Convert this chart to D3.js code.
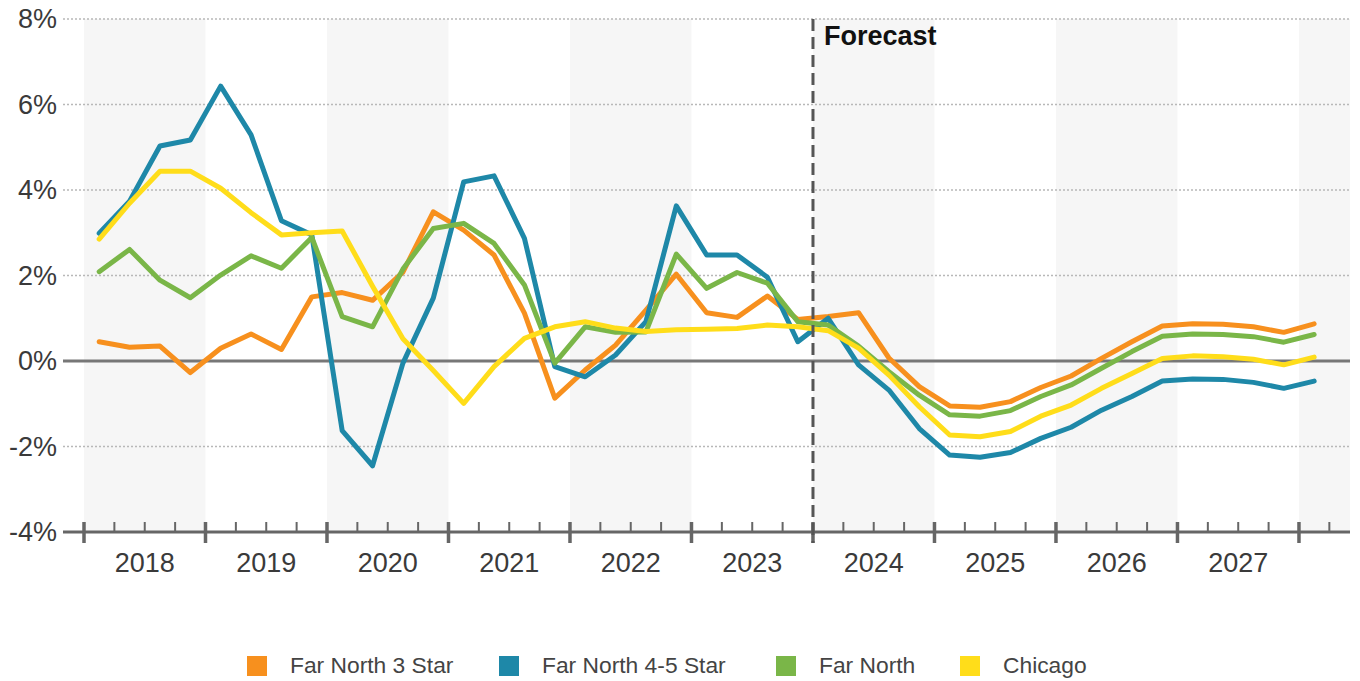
<!DOCTYPE html>
<html>
<head>
<meta charset="utf-8">
<script src="https://cdn.jsdelivr.net/npm/d3@7"></script>
<style>
  html, body { margin: 0; padding: 0; background: #fff; }
  svg { display: block; font-family: "Liberation Sans", Arial, sans-serif; }
</style>
</head>
<body>
<svg id="chart" width="1360" height="681"></svg>
<script>
// Quarterly periods, 2018 Q1 through 2028 Q1
const quarters = [
  "2018Q1","2018Q2","2018Q3","2018Q4",
  "2019Q1","2019Q2","2019Q3","2019Q4",
  "2020Q1","2020Q2","2020Q3","2020Q4",
  "2021Q1","2021Q2","2021Q3","2021Q4",
  "2022Q1","2022Q2","2022Q3","2022Q4",
  "2023Q1","2023Q2","2023Q3","2023Q4",
  "2024Q1","2024Q2","2024Q3","2024Q4",
  "2025Q1","2025Q2","2025Q3","2025Q4",
  "2026Q1","2026Q2","2026Q3","2026Q4",
  "2027Q1","2027Q2","2027Q3","2027Q4",
  "2028Q1"
];

// Year-over-year change, percent
const farNorth3Star = [
  0.45, 0.32, 0.35, -0.27, 0.30, 0.63, 0.27, 1.50,
  1.60, 1.42, 2.08, 3.49, 3.06, 2.48, 1.12, -0.87,
  -0.21, 0.37, 1.19, 2.03, 1.13, 1.02, 1.52, 0.97,
  1.04, 1.13, 0.07, -0.60, -1.05, -1.08, -0.95, -0.62,
  -0.35, 0.06, 0.45, 0.82, 0.87, 0.86, 0.80, 0.67,
  0.87
];
const farNorth45Star = [
  2.99, 3.74, 5.03, 5.17, 6.43, 5.29, 3.28, 2.95,
  -1.63, -2.45, -0.05, 1.47, 4.19, 4.33, 2.87, -0.13,
  -0.37, 0.14, 0.92, 3.63, 2.48, 2.48, 1.96, 0.45,
  1.00, -0.09, -0.68, -1.58, -2.20, -2.25, -2.14, -1.81,
  -1.55, -1.15, -0.83, -0.47, -0.42, -0.43, -0.50, -0.64,
  -0.47
];
const farNorth = [
  2.09, 2.61, 1.89, 1.48, 2.01, 2.46, 2.17, 2.89,
  1.04, 0.80, 2.15, 3.10, 3.22, 2.75, 1.78, -0.05,
  0.80, 0.67, 0.68, 2.50, 1.70, 2.07, 1.82, 0.92,
  0.84, 0.35, -0.25, -0.80, -1.26, -1.29, -1.16, -0.83,
  -0.56, -0.17, 0.22, 0.58, 0.63, 0.62, 0.57, 0.44,
  0.62
];
const chicago = [
  2.85, 3.69, 4.44, 4.44, 4.04, 3.47, 2.95, 3.00,
  3.04, 1.75, 0.52, -0.22, -0.99, -0.13, 0.53, 0.80,
  0.92, 0.77, 0.69, 0.73, 0.74, 0.76, 0.84, 0.80,
  0.71, 0.30, -0.33, -1.07, -1.73, -1.77, -1.65, -1.29,
  -1.03, -0.64, -0.29, 0.06, 0.12, 0.10, 0.04, -0.09,
  0.09
];

const seriesNames = ["Far North 3 Star", "Far North 4-5 Star", "Far North", "Chicago"];
const seriesColors = ["#F7901E", "#1E88A8", "#7AB648", "#FFDD1A"];
const seriesValues = [farNorth3Star, farNorth45Star, farNorth, chicago];

const yearLabels = ["2018","2019","2020","2021","2022","2023","2024","2025","2026","2027"];
const yTicks = [-4, -2, 0, 2, 4, 6, 8];
const forecastStart = 2024;

// Layout
const svg = d3.select("#chart");
const plotLeft = 84, plotRight = 1350, gridLeft = 63;
const yTop = 19, yBottom = 532;

// Quarter label -> fractional year at the middle of the quarter
const qTime = q => +q.slice(0, 4) + (+q.slice(5) - 0.5) / 4;

const x = d3.scaleLinear().domain([2018, 2028.42]).range([plotLeft, plotRight]);
const y = d3.scaleLinear().domain([-4, 8]).range([yBottom, yTop]);

// Alternating year bands
const bandYears = yearLabels.map(Number).concat([2028]);
svg.append("g")
  .selectAll("rect")
  .data(bandYears.filter((d, i) => i % 2 === 0))
  .join("rect")
  .attr("x", d => x(d))
  .attr("y", yTop)
  .attr("width", d => Math.min(x(d + 1), plotRight) - x(d))
  .attr("height", yBottom - yTop)
  .attr("fill", "#f6f6f6");

// Horizontal gridlines
svg.append("g")
  .selectAll("line")
  .data(yTicks.filter(d => d !== 0 && d !== -4))
  .join("line")
  .attr("x1", gridLeft).attr("x2", plotRight)
  .attr("y1", d => y(d)).attr("y2", d => y(d))
  .attr("stroke", "#b8b8b8")
  .attr("stroke-width", 1.3)
  .attr("stroke-dasharray", "2,2");

// Zero line
svg.append("line")
  .attr("x1", gridLeft).attr("x2", plotRight)
  .attr("y1", y(0)).attr("y2", y(0))
  .attr("stroke", "#777")
  .attr("stroke-width", 3);

// Y axis labels
const yAxis = d3.axisLeft(y).tickValues(yTicks).tickFormat(d => d + "%").tickSize(0).tickPadding(0);
const yg = svg.append("g").attr("transform", `translate(57,0)`).call(yAxis);
yg.select(".domain").remove();
yg.selectAll("text")
  .attr("font-size", 27)
  .attr("fill", "#3a3a3a")
  .attr("font-family", "'Liberation Sans', Arial, sans-serif");

// Series lines
const line = d3.line()
  .x((d, i) => x(qTime(quarters[i])))
  .y(d => y(d));

svg.append("g")
  .selectAll("path")
  .data(seriesValues)
  .join("path")
  .attr("d", d => line(d))
  .attr("fill", "none")
  .attr("stroke", (d, i) => seriesColors[i])
  .attr("stroke-width", 5)
  .attr("stroke-linejoin", "round")
  .attr("stroke-linecap", "round");

// Bottom axis: line, year ticks and quarter ticks
svg.append("line")
  .attr("x1", gridLeft).attr("x2", plotRight)
  .attr("y1", yBottom).attr("y2", yBottom)
  .attr("stroke", "#666")
  .attr("stroke-width", 3);

const quarterTicks = d3.range(2018, 2028.3, 0.25).filter(t => Math.abs(t - Math.round(t)) > 0.01);
svg.append("g")
  .selectAll("line")
  .data(quarterTicks)
  .join("line")
  .attr("x1", d => x(d)).attr("x2", d => x(d))
  .attr("y1", yBottom - 10).attr("y2", yBottom)
  .attr("stroke", "#666")
  .attr("stroke-width", 2);

svg.append("g")
  .selectAll("line")
  .data(bandYears)
  .join("line")
  .attr("x1", d => x(d)).attr("x2", d => x(d))
  .attr("y1", yBottom - 10).attr("y2", yBottom + 11)
  .attr("stroke", "#666")
  .attr("stroke-width", 3.5);

svg.append("g")
  .selectAll("text")
  .data(yearLabels)
  .join("text")
  .attr("x", d => x(+d + 0.5))
  .attr("y", 572)
  .attr("text-anchor", "middle")
  .attr("font-size", 27)
  .attr("fill", "#3a3a3a")
  .text(d => d);

// Forecast divider
svg.append("line")
  .attr("x1", x(forecastStart)).attr("x2", x(forecastStart))
  .attr("y1", yTop).attr("y2", yBottom + 11)
  .attr("stroke", "#555")
  .attr("stroke-width", 3)
  .attr("stroke-dasharray", "12,6");

svg.append("text")
  .attr("x", x(forecastStart) + 11)
  .attr("y", 45)
  .attr("font-size", 27)
  .attr("font-weight", "bold")
  .attr("fill", "#111")
  .text("Forecast");

// Legend
const legend = svg.append("g");
const legendX = [247, 499, 776, 960];
seriesNames.forEach((name, i) => {
  legend.append("rect")
    .attr("x", legendX[i]).attr("y", 656)
    .attr("width", 20).attr("height", 20)
    .attr("fill", seriesColors[i]);
  legend.append("text")
    .attr("x", legendX[i] + 43).attr("y", 673)
    .attr("font-size", 22.8)
    .attr("fill", "#444")
    .text(name);
});
</script>
</body>
</html>
